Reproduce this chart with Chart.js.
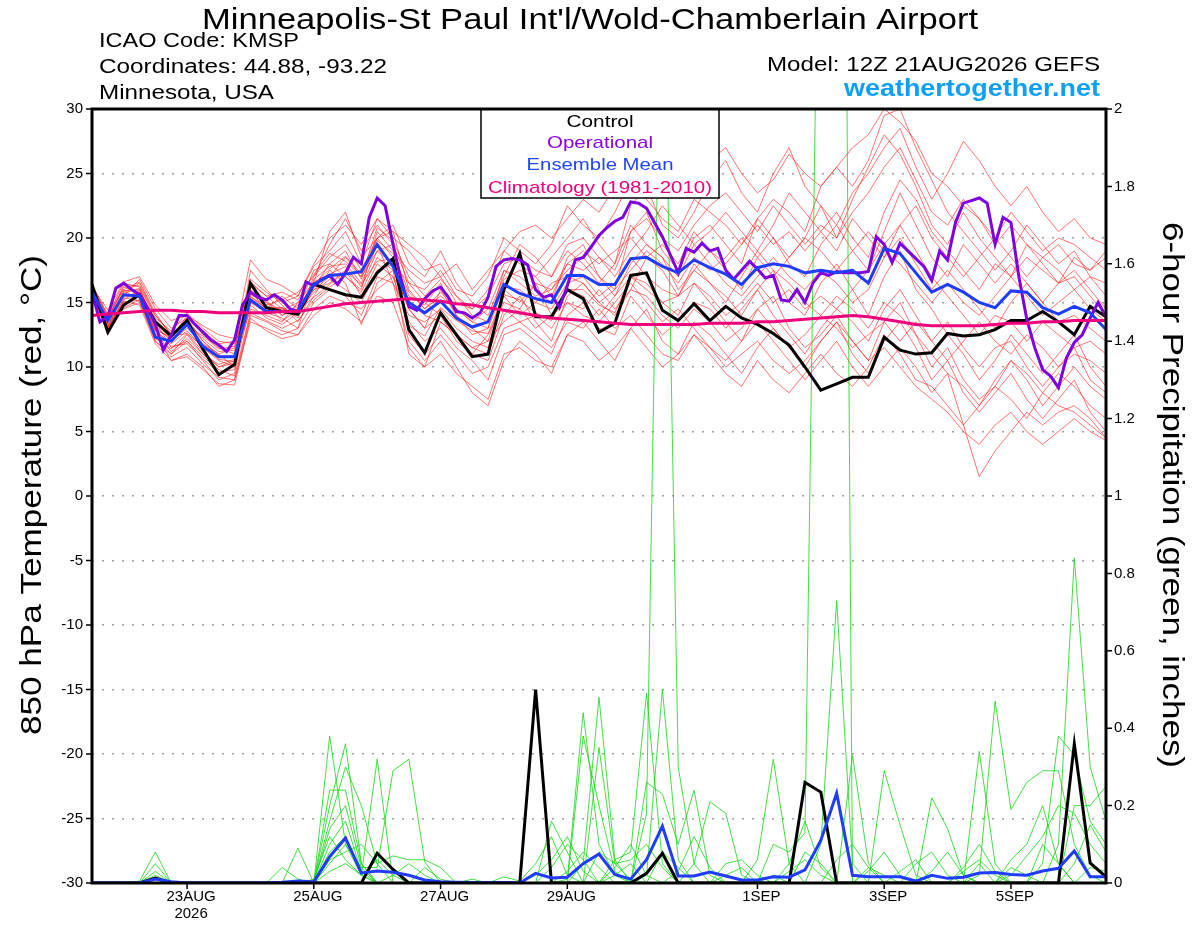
<!DOCTYPE html>
<html><head><meta charset="utf-8">
<script src="https://cdn.jsdelivr.net/npm/chart.js@4.4.1/dist/chart.umd.min.js"></script>
<style>html,body{margin:0;padding:0;background:#fff;overflow:hidden}canvas{display:block}</style>
</head><body>
<canvas id="c" width="1200" height="927"></canvas>
<script>
const FONT = '"Liberation Sans", Arial, Helvetica, sans-serif';
const stepHours = 6;      // ensemble output interval
const opStepHours = 3;    // operational output interval
const tickHours = [36, 84, 132, 180, 252, 300, 348];
const tickLabels = [['23AUG', '2026'], '25AUG', '27AUG', '29AUG', '1SEP', '3SEP', '5SEP'];

const controlTemp = [
16.4,12.7,14.8,15.6,13.5,12.4,13.6,11.4,9.4,10.2,16.5,14.6,14.3,
14.1,16.4,16.0,15.6,15.4,17.3,18.4,12.9,11.1,14.2,12.5,10.8,11.0,
16.0,18.8,13.9,13.9,16.0,15.3,12.7,13.4,17.1,17.3,14.4,13.6,14.9,
13.6,14.7,13.8,13.3,12.6,11.7,10.0,8.2,8.7,9.2,9.2,12.3,11.3,
11.0,11.1,12.6,12.4,12.5,12.9,13.6,13.6,14.3,13.5,12.5,14.7,13.9];

const meanTemp = [
15.8,13.6,15.6,15.5,12.3,12.0,13.3,11.6,10.8,10.8,15.2,14.3,14.3,
14.3,16.4,17.1,17.2,17.4,19.5,17.8,15.0,14.2,15.1,13.8,13.1,13.5,
16.4,15.7,15.3,15.0,17.1,17.1,16.4,16.4,18.4,18.5,17.8,17.3,18.3,
17.7,17.2,16.4,17.7,18.0,17.8,17.3,17.5,17.3,17.5,16.5,19.2,18.8,
17.3,15.8,16.4,15.8,15.0,14.6,15.9,15.8,14.6,14.1,14.7,14.2,12.9];

const climTemp = [
14.0,14.1,14.2,14.3,14.4,14.4,14.3,14.3,14.2,14.2,14.2,14.2,14.3,
14.3,14.5,14.7,14.9,15.0,15.1,15.2,15.3,15.2,15.1,14.9,14.8,14.6,
14.4,14.2,14.0,13.8,13.7,13.6,13.5,13.4,13.3,13.3,13.3,13.3,13.3,
13.4,13.4,13.4,13.5,13.5,13.6,13.7,13.8,13.9,14.0,13.9,13.7,13.5,
13.3,13.2,13.2,13.2,13.2,13.3,13.4,13.4,13.5,13.5,13.6,13.6,13.6];

const operTemp = [
15.8,13.5,13.9,16.1,16.5,16.0,15.6,14.6,13.3,11.3,12.5,14.0,14.0,
13.3,12.7,12.1,11.7,11.2,12.1,14.8,15.8,15.4,15.2,15.6,15.2,14.5,
14.3,16.6,16.3,16.8,17.1,16.4,17.3,18.5,18.0,21.6,23.1,22.5,19.5,
16.8,14.7,14.4,15.3,15.9,16.2,15.4,14.3,14.2,13.8,14.2,15.4,17.8,
18.3,18.4,18.3,17.9,16.0,15.4,15.6,14.6,16.3,18.3,18.5,19.3,20.2,
20.8,21.3,21.6,22.8,22.7,22.3,21.2,20.1,18.7,17.3,19.2,18.9,19.6,
19.0,19.2,17.5,16.8,17.5,18.2,17.6,16.9,17.1,15.2,15.1,16.0,15.0,
16.5,17.3,17.1,17.4,17.3,17.3,17.3,17.4,20.1,19.5,18.1,19.6,19.0,
18.4,17.8,16.7,19.0,18.3,21.2,22.7,22.9,23.1,22.7,19.5,21.6,21.2,
17.0,13.7,11.5,9.8,9.3,8.4,10.7,11.9,12.5,13.8,15.0,13.9];

const controlPrecip = [
0,0,0,0,0.013,0,0,0,0,0,0,0,0,
0,0,0,0,0,0.077,0.035,0,0,0,0,0,0,
0,0,0.5,0,0,0,0,0,0,0.025,0.077,0,0,
0,0,0,0,0,0,0.26,0.235,0,0,0,0,0,
0,0,0,0,0,0,0,0,0,0,0.36,0.052,0.016];

const meanPrecip = [
0,0,0,0,0.01,0.003,0,0,0,0,0,0,0.002,
0.005,0.003,0.068,0.116,0.026,0.031,0.028,0.02,0.008,0.003,0.002,0.001,0.001,
0.001,0,0.025,0.013,0.015,0.05,0.075,0.022,0.01,0.06,0.147,0.018,0.018,
0.028,0.018,0.008,0.008,0.016,0.015,0.034,0.11,0.232,0.02,0.016,0.016,0.016,
0.005,0.02,0.012,0.015,0.026,0.027,0.022,0.02,0.031,0.038,0.083,0.016,0.016];

const memberTemp = [
[16.2,13.0,15.2,16.0,13.5,11.5,12.0,10.5,9.0,9.5,16.5,15.5,14.5,
 14.0,17.0,19.5,21.5,19.0,21.0,19.5,14.5,13.0,16.0,14.0,12.5,13.0,
 17.5,17.0,16.0,15.0,18.5,19.5,17.0,16.0,20.5,22.0,19.0,17.5,20.0,
 21.0,19.5,18.0,21.5,23.0,22.0,20.5,24.0,25.5,24.0,26.0,29.5,30.0,
 27.0,24.5,22.0,20.5,19.0,17.5,19.0,21.0,19.5,18.0,19.0,17.0,15.5],
[15.8,14.2,16.0,15.0,12.0,11.0,12.5,11.0,10.0,10.5,14.5,14.0,13.5,
 15.0,16.0,17.0,18.5,17.0,19.0,18.0,16.5,15.0,14.0,12.0,11.0,12.5,
 15.0,14.5,16.5,14.0,16.0,15.5,14.0,15.5,17.0,16.0,15.0,14.0,16.5,
 15.0,13.5,12.0,14.5,15.5,13.0,11.5,12.5,14.0,12.0,10.5,13.5,15.0,
 12.5,10.0,11.5,9.0,7.5,8.5,10.5,9.0,7.0,8.5,10.0,8.5,7.5],
[16.0,13.5,15.8,16.5,14.0,12.5,13.5,12.0,11.0,11.5,15.5,14.5,15.5,
 14.5,17.5,18.0,17.0,16.0,20.5,19.0,17.5,16.5,17.0,15.0,14.5,16.0,
 19.0,18.0,17.0,18.5,20.0,21.5,19.5,18.0,22.5,24.0,21.0,20.0,22.0,
 24.5,26.0,23.5,22.0,25.0,27.0,24.0,22.5,20.0,23.0,25.5,28.0,26.5,
 24.0,21.0,19.5,22.0,20.0,18.5,17.0,19.5,18.0,16.5,18.5,17.5,19.0],
[15.5,12.8,14.5,15.0,12.5,10.5,11.0,10.0,8.5,9.0,13.5,13.0,12.5,
 13.0,15.0,16.0,15.5,14.0,17.0,16.5,12.0,10.5,12.0,10.0,8.0,7.0,
 10.5,12.0,11.0,9.5,12.5,13.5,12.0,10.5,13.0,14.5,12.0,11.0,13.5,
 12.5,11.0,9.5,11.5,13.0,11.5,10.0,12.0,13.5,11.0,9.5,12.0,13.5,
 11.5,9.0,10.5,8.0,6.5,8.0,9.5,7.5,6.0,7.5,9.0,6.5,5.0],
[16.3,13.8,16.2,15.8,13.0,12.2,14.0,12.5,11.5,11.0,16.0,15.0,14.0,
 14.5,16.5,20.5,22.0,18.5,20.0,21.0,18.0,17.0,19.0,16.5,15.0,14.0,
 17.0,19.5,18.5,17.0,19.0,18.0,16.5,18.0,21.0,19.5,18.5,16.0,17.5,
 19.0,17.5,16.0,18.5,20.0,18.0,17.0,19.5,21.0,19.0,17.5,20.5,23.5,
 21.0,18.5,17.0,19.5,18.0,16.5,18.0,16.5,15.0,16.5,17.5,16.0,14.5],
[15.9,12.5,14.8,15.5,12.8,11.8,12.8,11.5,10.5,10.0,17.5,16.0,14.8,
 13.5,15.5,17.5,16.5,13.3,16.5,17.5,11.0,10.0,13.5,12.5,11.0,10.5,
 14.0,15.5,13.5,12.0,15.5,16.5,15.0,14.0,16.0,18.5,17.5,15.5,18.0,
 16.5,15.0,17.0,19.0,17.5,15.0,14.0,16.5,18.0,16.0,14.0,17.0,19.0,
 16.0,14.5,12.5,11.0,9.0,10.5,12.5,11.0,9.5,11.0,12.5,10.0,8.5],
[16.1,13.2,15.5,16.8,14.5,13.0,13.8,12.8,11.8,12.0,16.8,15.8,15.0,
 15.5,17.8,19.0,20.5,18.0,21.5,20.0,19.0,17.5,18.0,16.0,15.5,17.0,
 20.0,19.0,18.0,19.5,22.5,21.0,20.0,22.0,24.5,23.0,21.5,20.5,23.0,
 22.0,21.0,19.5,21.5,20.0,18.5,20.0,22.5,21.0,23.5,25.0,27.0,28.5,
 25.5,23.0,25.0,27.5,26.0,24.0,22.5,24.0,22.0,20.5,21.5,20.0,19.5],
[15.7,13.0,15.0,15.2,12.0,10.8,11.5,10.2,9.2,9.0,14.0,13.5,12.8,
 12.5,14.5,15.5,15.0,14.5,16.0,17.0,13.5,12.0,13.0,11.5,10.5,9.0,
 12.5,13.0,12.0,11.0,14.0,15.0,13.0,12.5,15.5,14.0,12.5,13.5,15.0,
 14.5,13.0,14.5,16.0,14.0,12.5,11.0,13.0,14.5,13.5,12.0,14.5,16.0,
 14.0,12.0,13.5,11.5,10.0,11.5,12.0,10.0,8.5,10.0,11.5,9.0,8.0],
[16.4,14.0,16.5,16.2,13.8,12.8,14.2,13.0,12.0,11.8,15.8,14.8,15.2,
 15.8,17.0,18.5,19.5,17.5,20.0,20.5,16.0,14.5,15.5,14.5,13.5,14.5,
 17.5,16.5,15.5,16.0,18.0,17.5,18.5,17.0,19.0,20.5,22.5,21.0,19.5,
 20.5,22.0,20.5,19.0,21.0,23.5,22.0,20.5,19.0,21.5,20.0,18.5,21.0,
 22.5,20.0,18.5,17.0,18.5,20.0,18.5,17.0,18.5,17.5,16.0,17.0,16.5],
[15.6,13.4,15.4,15.8,12.6,11.2,12.2,11.0,10.2,10.6,15.0,14.2,13.8,
 13.0,16.8,17.8,18.0,16.5,19.5,16.5,14.0,13.5,14.5,13.0,12.0,11.5,
 15.5,14.0,15.0,14.5,16.5,17.0,15.5,16.5,18.5,17.0,16.0,15.5,17.5,
 16.5,15.5,14.0,16.0,17.5,16.5,15.0,14.0,15.5,14.5,13.0,15.0,14.0,
 12.5,11.0,9.5,5.5,1.5,3.5,5.0,6.5,5.5,6.5,7.0,6.0,4.5],
[16.0,13.6,15.9,16.0,13.2,12.0,13.0,11.8,11.0,10.0,16.2,15.2,14.0,
 14.8,16.2,18.0,19.0,16.8,20.0,18.5,15.5,14.8,16.5,14.0,13.0,12.0,
 16.0,15.0,16.5,16.0,17.5,18.5,17.0,15.5,18.0,19.5,18.5,17.0,19.5,
 18.0,16.5,15.5,17.0,18.5,17.0,16.0,17.5,16.5,15.0,16.0,18.5,20.0,
 18.0,16.0,17.5,16.0,14.5,13.0,15.0,16.5,15.0,13.5,14.0,13.0,12.0],
[15.8,12.9,15.3,15.4,12.2,11.4,12.6,11.2,10.0,10.3,15.3,14.6,14.6,
 14.0,16.0,16.5,17.5,15.5,18.0,17.0,15.0,14.0,13.5,12.5,11.5,12.0,
 13.5,14.5,13.0,14.0,15.0,14.0,13.5,15.0,16.5,15.0,13.5,14.5,13.0,
 11.5,10.5,12.0,13.5,12.0,10.5,9.0,10.5,12.0,10.0,8.5,10.0,11.5,
 10.0,8.0,9.5,8.5,7.0,9.0,10.5,9.5,8.0,9.5,8.5,7.0,6.0],
[16.2,14.4,16.6,17.0,14.8,13.6,14.0,13.2,12.5,12.2,18.3,16.8,16.3,
 15.5,18.0,20.0,21.0,19.5,21.5,20.5,19.5,18.5,17.0,18.0,16.0,17.5,
 19.0,20.5,21.0,20.0,21.5,23.0,22.0,24.0,25.5,27.5,25.0,23.5,24.5,
 26.0,27.0,25.0,23.5,24.5,26.5,25.0,24.0,25.5,27.0,28.0,30.0,29.0,
 27.5,25.0,24.0,22.5,21.5,20.0,22.0,20.5,19.0,20.0,19.5,18.5,17.5],
[15.9,13.3,14.9,15.6,12.9,11.6,11.8,10.6,9.6,9.8,14.8,13.8,13.3,
 14.2,15.8,16.8,16.0,15.0,17.5,18.0,12.5,11.0,12.5,11.0,9.5,10.0,
 13.0,13.5,12.5,11.5,13.5,13.0,14.5,13.0,14.0,12.5,11.0,10.5,12.5,
 11.0,9.5,8.5,10.5,9.0,8.0,9.5,11.0,9.5,8.5,10.0,12.5,11.0,
 9.0,8.5,7.0,5.5,7.0,8.5,7.5,6.0,8.0,7.0,6.5,5.5,4.5],
[16.0,13.7,16.3,16.3,14.0,12.6,13.5,12.2,11.2,11.3,16.6,15.5,15.8,
 15.2,17.2,18.8,18.2,17.0,20.8,19.8,17.0,15.5,16.8,15.5,14.0,13.5,
 16.8,17.5,17.0,15.5,18.0,19.0,18.0,19.0,20.0,18.5,19.5,18.0,20.5,
 19.0,18.0,19.5,21.0,19.5,20.5,19.0,20.5,22.0,20.0,18.5,22.0,24.5,
 23.0,20.5,19.0,17.5,16.0,18.0,17.0,18.5,17.5,16.5,17.0,15.5,14.0],
[15.6,13.1,15.1,14.8,11.8,10.5,10.8,9.8,8.7,8.6,13.8,12.8,12.2,
 12.5,14.0,15.0,14.5,13.5,15.5,15.0,11.5,10.0,11.0,9.5,8.5,7.5,
 11.0,11.5,10.5,10.0,12.5,12.0,10.5,11.5,13.0,11.5,10.0,11.0,12.5,
 11.5,10.0,11.0,12.0,10.5,9.5,10.5,12.0,13.5,12.0,10.5,11.5,10.0,
 8.5,7.5,6.5,5.0,4.0,5.5,6.5,5.0,4.0,5.0,6.0,5.0,4.3],
[16.3,13.9,16.0,16.6,14.2,12.4,13.2,12.4,11.4,11.6,15.6,15.0,14.4,
 15.0,16.6,17.2,17.8,16.2,19.0,19.5,16.5,16.0,17.5,15.5,14.5,15.5,
 18.0,18.5,17.5,17.0,19.5,20.0,18.5,17.5,20.5,21.5,20.0,19.0,21.0,
 22.5,23.5,22.0,20.5,22.5,21.0,19.5,21.0,20.0,22.0,23.5,25.5,27.0,
 24.5,22.0,21.0,23.0,21.5,19.5,21.0,19.5,18.5,19.5,18.0,17.5,18.5],
[15.7,12.7,14.6,15.2,12.4,11.0,12.0,10.8,9.8,9.3,14.2,13.6,13.0,
 13.6,15.2,16.2,17.0,15.8,18.5,17.5,14.5,13.0,14.0,12.5,11.5,11.0,
 14.5,13.5,14.0,13.0,15.0,14.5,16.0,14.5,16.0,15.5,14.0,13.0,14.5,
 13.5,12.0,13.0,14.5,13.0,11.5,12.5,14.0,13.0,11.5,12.5,13.5,12.0,
 13.5,12.0,10.5,12.0,13.5,12.0,11.0,12.5,11.5,10.0,11.0,10.5,9.5],
[16.1,13.5,15.7,16.1,13.4,12.2,13.8,12.0,10.8,10.9,15.9,14.4,14.6,
 13.8,16.4,17.6,18.6,17.2,19.8,18.8,15.8,14.5,15.8,14.5,13.5,13.0,
 16.2,16.0,15.0,16.5,17.0,16.5,15.0,16.0,17.5,19.0,18.0,16.5,18.5,
 17.5,18.5,20.0,18.5,17.0,18.5,20.0,19.0,17.5,19.0,20.5,19.0,18.0,
 16.5,15.0,16.5,15.0,14.0,15.5,17.0,15.5,14.0,15.0,16.0,14.5,13.5],
[15.9,13.1,15.6,15.6,12.8,12.4,12.6,11.6,10.6,10.4,15.4,14.8,13.6,
 14.4,15.4,16.4,17.4,16.4,18.2,18.4,13.2,12.4,14.6,13.6,12.8,12.6,
 15.6,15.2,14.2,13.6,16.0,16.0,14.8,14.2,17.0,16.5,15.0,15.5,16.5,
 15.5,14.0,15.0,16.5,15.0,16.0,14.5,15.5,14.5,16.0,17.5,19.5,21.0,
 19.0,17.0,15.5,14.0,12.5,14.0,13.5,12.0,13.5,12.5,11.5,12.0,11.0]
];

const memberPrecip = [
[0,0,0,0.005,0.08,0,0,0,0,0,0,0,0,
 0,0,0.38,0.1,0.02,0,0,0,0,0,0,0,0,
 0,0,0,0.16,0.08,0,0,0,0,0,0,0,0,
 0,0,0,0,0,0,0,0,0,0,0,0,0,
 0,0,0,0,0.02,0.47,0.19,0.26,0.29,0.29,0.1,0.02,0],
[0,0,0,0,0.05,0,0,0,0,0,0,0,0,
 0,0,0.24,0.24,0.05,0,0,0,0,0,0,0,0,
 0,0,0.02,0.06,0.12,0.03,0,0,0,0,0,0,0,
 0,0,0,0,0,0,0,0,0,0,0,0,0,
 0,0,0,0,0,0,0,0,0.05,0.38,0.33,0.16,0.1],
[0,0,0,0,0.03,0,0,0,0,0,0,0,0,
 0,0,0.2,0.36,0.05,0,0,0,0,0,0,0,0,
 0,0,0,0,0.01,0.44,0.1,0.02,0,0,0,0,0,
 0,0,0,0,0,0,0,0,0,0,0,0,0,
 0,0,0,0,0,0,0,0,0,0.1,0.84,0.3,0.16],
[0,0,0,0,0.02,0,0,0,0,0,0,0,0,
 0,0,0.16,0.3,0.2,0.05,0,0,0,0,0,0,0,
 0,0,0,0,0,0.38,0.2,0.03,0,0,0,0,0,
 0,0,0,0,0,0,0,0,0,0,0,0,0,
 0,0,0,0,0,0,0,0,0,0,0.2,0.2,0.25],
[0,0,0,0,0,0,0,0,0,0,0,0,0.04,
 0.01,0,0.14,0.2,0.04,0,0,0,0,0,0,0,0,
 0,0,0,0,0,0.05,0.48,0.06,0,0,0,0,0,
 0,0,0,0,0,0,0,0,0,0,0,0,0,
 0,0,0,0,0,0,0.06,0.1,0.2,0.05,0,0,0],
[0,0,0,0,0,0,0,0,0,0,0,0,0,
 0.09,0,0.1,0.16,0.03,0,0,0,0,0,0,0,0,
 0,0,0,0,0,0,0.35,0.05,0.01,0,0,0,0,
 0,0,0,0,0,0.05,0.16,0.04,0,0,0,0,0,
 0,0,0,0,0,0,0,0,0,0,0,0,0],
[0,0,0,0,0,0,0,0,0,0,0,0,0,
 0,0,0.08,0.12,0.02,0.32,0,0,0,0,0,0,0,
 0,0,0,0,0,0,0,0.06,0.08,0.49,0.05,0,0,
 0,0,0,0,0,0,0,0,0,0,0,0,0,
 0,0.03,0.08,0.02,0,0,0,0,0,0,0,0,0],
[0,0,0,0,0,0,0,0,0,0,0,0,0,
 0,0,0.05,0.1,0.04,0.04,0.29,0.32,0.055,0,0,0,0,
 0,0,0,0,0,0,0,0,0,0.18,2.6,0.3,0.05,
 0,0,0,0,0,0,0,0,0,0,0,0,0,
 0,0,0,0,0.05,0,0,0,0,0,0,0,0],
[0,0,0,0,0,0,0,0,0,0,0,0,0,
 0,0,0.06,0.08,0.1,0.05,0.07,0.06,0.06,0.04,0,0,0,
 0,0,0,0,0,0,0,0,0,0.26,0.23,0.1,0.24,
 0.02,0,0,0,0,0,0,0,0,0,0.03,0.08,0.02,
 0,0,0,0,0,0,0,0,0,0,0,0,0],
[0,0,0,0,0,0,0,0,0,0,0,0,0,
 0,0.01,0.12,0.06,0.02,0,0,0,0,0,0,0,0,
 0,0,0,0,0,0,0,0,0,0.02,0.5,0.06,0,
 0,0,0,0,0,0,0,0,0,0.33,0.05,0,0,
 0,0,0,0,0,0,0,0,0,0,0,0,0],
[0,0,0,0,0,0,0,0,0,0,0,0,0,
 0,0,0.03,0.05,0.02,0.06,0.02,0,0,0,0,0,0,
 0,0,0,0,0,0,0,0,0,0,0,0,0.05,
 0.21,0.18,0.02,0,0,0,0,0,0,0,0,0,0,
 0,0,0,0,0.34,0.05,0,0,0,0,0,0,0],
[0,0,0,0,0,0,0,0,0,0,0,0,0,
 0,0,0,0,0,0,0,0,0,0,0,0,0,
 0,0,0,0,0,0,0.08,0.05,0.06,0.1,0.04,0,0,
 0,0,0,0,0,0,0,0,0,0,0,0.29,0.15,
 0.02,0,0,0,0,0,0,0,0,0,0,0,0],
[0,0,0,0,0,0,0,0,0,0,0,0,0,
 0,0,0,0,0,0,0,0,0,0,0,0,0,
 0,0,0,0,0,0,0,0,0,0,0,0,0,
 0,0,0,0.06,0.32,0.05,0,0,0,0,0,0,0,
 0,0.22,0.14,0.02,0,0,0,0,0,0,0,0,0],
[0,0,0,0,0,0,0,0,0,0,0,0,0,
 0,0,0,0,0,0,0,0,0,0,0,0,0,
 0,0,0,0.04,0.1,0.06,0,0,0,0,0,0,0,
 0,0,0,0,0.1,0.08,0.13,3.0,5.8,0,0,0,0,
 0,0,0,0,0,0,0,0,0,0,0,0,0],
[0,0,0,0,0,0,0,0,0,0,0,0,0,
 0,0,0,0,0,0,0,0,0,0,0,0,0,
 0,0,0,0,0,0,0,0,0,0,0,0,0,
 0,0,0,0,0,0,0,0.1,0.73,0.05,0,0,0,
 0,0,0,0,0,0,0,0,0.1,0.05,0,0,0],
[0,0,0,0,0,0,0,0,0,0,0,0,0,
 0,0,0,0,0,0,0,0,0,0,0,0.01,0,
 0.016,0.005,0.05,0.12,0.02,0,0,0,0,0,0,0,0,
 0,0.05,0.06,0.02,0,0,0,0,0,0,0,0,0,
 0,0,0,0.04,0.1,0.03,0,0,0,0,0,0,0],
[0,0,0,0,0,0,0,0,0,0,0,0,0,
 0,0,0,0,0,0,0,0,0.04,0.01,0,0,0,
 0,0,0,0,0,0,0,0.04,0.1,0.02,0,0,0,
 0,0,0,0,0,0,0,0,0.06,0.1,0.04,0,0,
 0.05,0.08,0.02,0,0,0,0,0,0,0,0.05,0.15,0.08],
[0,0,0,0,0,0,0,0,0,0,0,0,0,
 0,0,0,0,0,0,0,0,0,0,0,0,0,
 0,0,0,0,0,0,0,0,0,0,0,0.03,0.12,
 0.04,0,0,0,0,0.03,0.06,0.02,0,0,0,0,0,
 0,0,0,0,0,0,0.02,0.07,0.12,0.2,0.18,0.1,0.05],
[0,0,0,0,0,0,0,0,0,0,0,0,0,
 0,0,0,0,0,0,0,0,0,0,0,0,0,
 0,0,0,0,0.03,0.08,0.04,0,0,0,0,0,0,
 0,0.02,0.04,0,0.02,0,0.08,0.05,0,0,0,0,0.03,
 0.06,0,0,0.03,0.06,0.02,0,0,0,0,0,0.04,0.03],
[0,0,0,0,0,0,0,0,0,0,0,0,0,
 0,0,0,0,0,0,0.02,0.05,0.02,0,0,0,0,
 0,0,0,0,0,0,0,0.02,0.05,0,0.08,0.04,0,
 0,0,0,0,0,0,0,0,0,0,0.04,0.02,0,
 0,0,0,0,0,0,0.04,0.02,0,0,0,0,0]
];

// ---------- build datasets ----------
const toPts = (arr, step) => arr.map((v, i) => ({ x: i * step, y: v }));
const datasets = [];
const lineBase = { pointRadius: 0, tension: 0, fill: false };

memberTemp.forEach((m, k) => datasets.push(Object.assign({}, lineBase, {
  label: 'T member ' + (k + 1), data: toPts(m, stepHours), yAxisID: 'y',
  borderColor: 'rgba(255,30,30,0.62)', borderWidth: 1, order: 50 })));
memberPrecip.forEach((m, k) => datasets.push(Object.assign({}, lineBase, {
  label: 'P member ' + (k + 1), data: toPts(m, stepHours), yAxisID: 'y2',
  borderColor: 'rgba(20,215,20,0.8)', borderWidth: 1, order: 40 })));
datasets.push(Object.assign({}, lineBase, { label: 'Control precip', data: toPts(controlPrecip, stepHours), yAxisID: 'y2', borderColor: '#000', borderWidth: 3, order: 6 }));
datasets.push(Object.assign({}, lineBase, { label: 'Mean precip', data: toPts(meanPrecip, stepHours), yAxisID: 'y2', borderColor: '#1f3cff', borderWidth: 3, order: 5 }));
datasets.push(Object.assign({}, lineBase, { label: 'Control', data: toPts(controlTemp, stepHours), yAxisID: 'y', borderColor: '#000', borderWidth: 3, order: 4 }));
datasets.push(Object.assign({}, lineBase, { label: 'Operational', data: toPts(operTemp, opStepHours), yAxisID: 'y', borderColor: '#7f00df', borderWidth: 3, order: 3 }));
datasets.push(Object.assign({}, lineBase, { label: 'Ensemble Mean', data: toPts(meanTemp, stepHours), yAxisID: 'y', borderColor: '#1f3cff', borderWidth: 3, order: 2 }));
datasets.push(Object.assign({}, lineBase, { label: 'Climatology', data: toPts(climTemp, stepHours), yAxisID: 'y', borderColor: '#f0007c', borderWidth: 3, order: 1 }));

function fitText(ctx, text, x, y, size, width, align, color, weight, rot) {
  ctx.save();
  ctx.font = (weight || 'normal') + ' ' + size + 'px ' + FONT;
  const w = ctx.measureText(text).width;
  const sx = width ? width / w : 1;
  ctx.translate(x, y);
  if (rot) ctx.rotate(rot);
  ctx.scale(sx, 1);
  ctx.fillStyle = color;
  ctx.textBaseline = 'alphabetic';
  ctx.textAlign = align;
  ctx.fillText(text, 0, 0);
  ctx.restore();
}

const decor = {
  id: 'decor',
  afterDraw(chart) {
    const { ctx, chartArea: a, scales } = chart;
    ctx.save();
    // tick marks
    ctx.strokeStyle = '#000';
    ctx.lineWidth = 1.5;
    ctx.beginPath();
    scales.y.ticks.forEach(t => { const y = scales.y.getPixelForValue(t.value); ctx.moveTo(a.left - 6, y); ctx.lineTo(a.left, y); });
    scales.y2.ticks.forEach(t => { const y = scales.y2.getPixelForValue(t.value); ctx.moveTo(a.right, y); ctx.lineTo(a.right + 6, y); });
    tickHours.forEach(h => { const x = scales.x.getPixelForValue(h); ctx.moveTo(x, a.bottom); ctx.lineTo(x, a.bottom + 6); });
    ctx.stroke();
    // legend box
    ctx.fillStyle = '#fff';
    ctx.fillRect(481, a.top, 238, 89);
    ctx.lineWidth = 1.5;
    ctx.strokeStyle = '#000';
    ctx.strokeRect(481, a.top, 238, 89);
    fitText(ctx, 'Control', 600, 127, 17, 67, 'center', '#000');
    fitText(ctx, 'Operational', 600, 148, 17, 106, 'center', '#8a00e6');
    fitText(ctx, 'Ensemble Mean', 600, 170, 17, 147, 'center', '#2046ff');
    fitText(ctx, 'Climatology (1981-2010)', 600, 193, 17, 224, 'center', '#f0007c');
    // frame
    ctx.lineWidth = 3;
    ctx.strokeStyle = '#000';
    ctx.strokeRect(a.left, a.top, a.right - a.left, a.bottom - a.top);
    // header texts
    fitText(ctx, "Minneapolis-St Paul Int'l/Wold-Chamberlain Airport", 590, 29, 29, 776, 'center', '#000');
    fitText(ctx, 'ICAO Code: KMSP', 99, 47, 20, 200, 'left', '#000');
    fitText(ctx, 'Coordinates: 44.88, -93.22', 99, 73, 20, 288, 'left', '#000');
    fitText(ctx, 'Minnesota, USA', 99, 99, 20, 175, 'left', '#000');
    fitText(ctx, 'Model: 12Z 21AUG2026 GEFS', 1100, 71, 20, 333, 'right', '#000');
    fitText(ctx, 'weathertogether.net', 1100, 96, 24, 256, 'right', '#0fa0f5', 'bold');
    // axis titles
    fitText(ctx, '850 hPa Temperature (red, \u00B0C)', 41, 495, 29, 480, 'center', '#000', 'normal', -Math.PI / 2);
    fitText(ctx, '6-hour Precipitation (green, inches)', 1163, 495, 29, 546, 'center', '#000', 'normal', Math.PI / 2);
    ctx.restore();
  }
};

const tickFont = { family: FONT, size: 15, lineHeight: 1.1 };
new Chart(document.getElementById('c'), {
  type: 'line',
  data: { datasets },
  options: {
    responsive: false, animation: false, devicePixelRatio: 1,
    layout: { padding: { top: 109, left: 0, right: 0, bottom: 0 } },
    plugins: { legend: { display: false }, tooltip: { enabled: false }, title: { display: false } },
    scales: {
      x: {
        type: 'linear', min: 0, max: 384,
        afterBuildTicks: s => { s.ticks = tickHours.map(v => ({ value: v })); },
        ticks: { autoSkip: false, maxRotation: 0, padding: 6, labelOffset: 4, color: '#000', font: tickFont,
          callback: v => { const k = tickHours.indexOf(v); return k >= 0 ? tickLabels[k] : ''; } },
        grid: { display: false, drawTicks: false }, border: { display: false },
        afterFit: s => { s.height = 44; }
      },
      y: {
        position: 'left', min: -30, max: 30,
        ticks: { stepSize: 5, padding: 9, color: '#000', font: tickFont },
        grid: { color: '#a0a0a0', lineWidth: 1.5, drawTicks: false },
        border: { display: false, dash: [2, 8] },
        afterFit: s => { s.width = 92; }
      },
      y2: {
        position: 'right', min: 0, max: 2,
        ticks: { stepSize: 0.2, padding: 8, color: '#000', font: tickFont, callback: v => String(Math.round(v * 10) / 10) },
        grid: { display: false, drawTicks: false }, border: { display: false },
        afterFit: s => { s.width = 94; }
      }
    }
  },
  plugins: [decor]
});
</script>
</body></html>
